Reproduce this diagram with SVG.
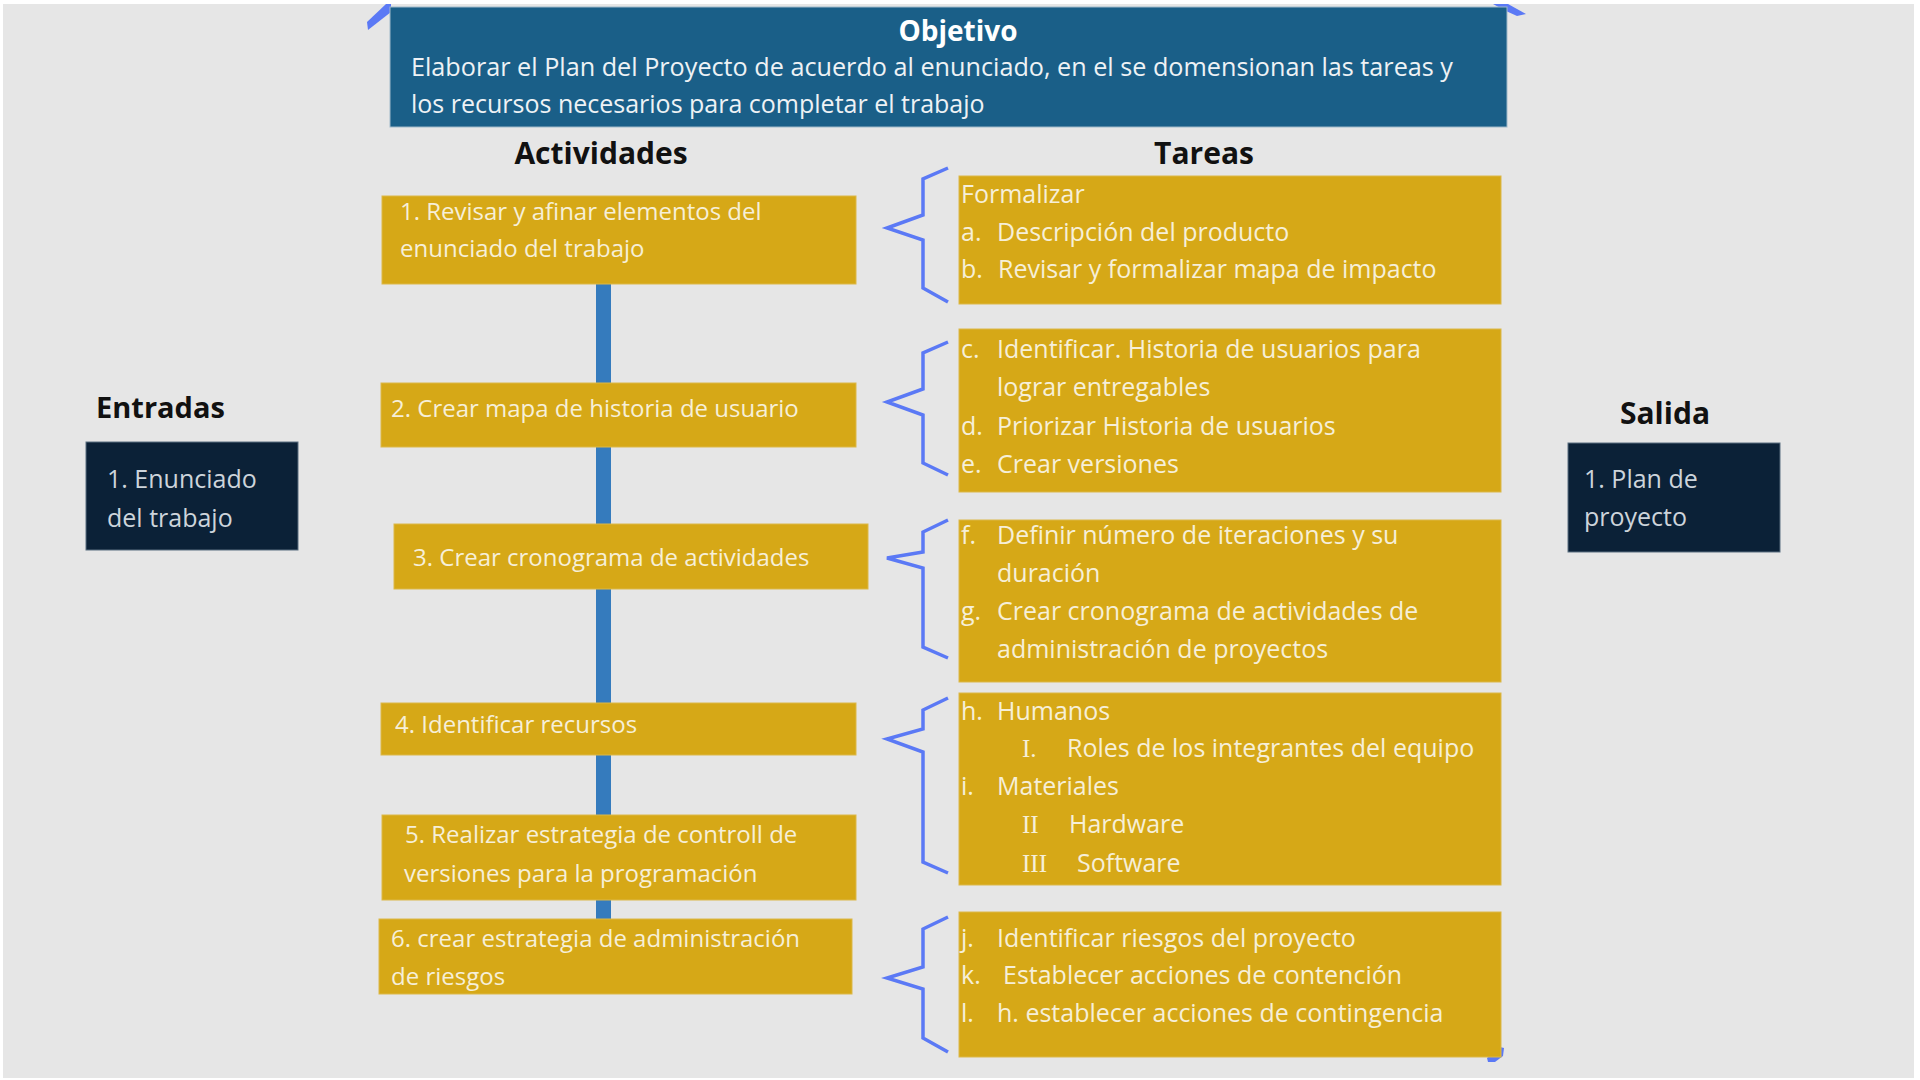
<svg xmlns="http://www.w3.org/2000/svg" width="1920" height="1080" viewBox="0 0 1920 1080">
<style>
.bg{fill:#e6e6e6}
.gold{fill:#d6a817;stroke:#dcb848;stroke-width:1}
.navy{fill:#0b2137;stroke:#5a6f80;stroke-width:1}
.obj{fill:#1a5f88;stroke:#9fb9c9;stroke-width:1}
.t{font-family:"Open Sans","Noto Sans",sans-serif;font-size:24px;fill:#f6efd8}
.tk{font-family:"Open Sans","Noto Sans",sans-serif;font-size:25px;fill:#f6efd8}
.rn{font-family:"Liberation Serif",serif;font-size:25px;fill:#f6efd8}
.nt{font-family:"Open Sans","Noto Sans",sans-serif;font-size:25px;fill:#cdd4db}
.ot{font-family:"Open Sans","Noto Sans",sans-serif;font-size:25px;fill:#eef2f5}
.h{font-family:"Open Sans","Noto Sans",sans-serif;font-size:30px;font-weight:bold;fill:#111}
.brace{fill:none;stroke:#5b79f5;stroke-width:3.5;stroke-linejoin:miter}
.bar{stroke:#357bbd;stroke-width:15}
.mark{fill:#5b79f5}
</style>
<rect x="0" y="0" width="1920" height="1080" fill="#ffffff"/>
<rect class="bg" x="3" y="4" width="1911" height="1074"/>

<g id="marks">
<polygon class="mark" points="367,22 386,4 391,4 391,12 368,30"/>
<polygon class="mark" points="1493,4 1508,4 1526,14 1517,16 1506,11"/>
<polygon class="mark" points="1487,1058 1500,1047 1504,1048 1503,1056 1495,1062 1488,1062"/>
</g>

<g id="connectors">
<line class="bar" x1="603.5" y1="280" x2="603.5" y2="922"/>
<polyline class="brace" points="948,168 923,179 923,215 887,228 923,240 923,288 948,302"/>
<polyline class="brace" points="948,342 923,353 923,389 887,402 923,415 923,463 948,475"/>
<polyline class="brace" points="948,520 923,532 923,552 887,558 923,568 923,647 948,658"/>
<polyline class="brace" points="948,698 923,710 923,729 887,739 923,752 923,862 948,873"/>
<polyline class="brace" points="948,917 923,929 923,967 887,978 923,989 923,1038 948,1052"/>
</g>

<g id="objetivo">
<rect class="obj" x="390" y="7" width="1117" height="120"/>
<text x="958" y="41" text-anchor="middle" style="font-family:'Open Sans','Noto Sans',sans-serif;font-size:28px;font-weight:bold;fill:#ffffff">Objetivo</text>
<text class="ot" x="411" y="76" textLength="1042" lengthAdjust="spacingAndGlyphs">Elaborar el Plan del Proyecto de acuerdo al enunciado, en el se domensionan las tareas y</text>
<text class="ot" x="411" y="113">los recursos necesarios para completar el trabajo</text>
</g>

<g id="header-actividades"><text class="h" x="601" y="164" text-anchor="middle">Actividades</text></g>
<g id="header-tareas"><text class="h" x="1204" y="164" text-anchor="middle">Tareas</text></g>

<g id="entradas">
<text class="h" x="96" y="418" style="font-size:29px">Entradas</text>
<rect class="navy" x="86" y="442" width="212" height="108"/>
<text class="nt" x="107" y="488">1. Enunciado</text>
<text class="nt" x="107" y="527">del trabajo</text>
</g>

<g id="salida">
<text class="h" x="1665" y="424" text-anchor="middle">Salida</text>
<rect class="navy" x="1568" y="443" width="212" height="109"/>
<text class="nt" x="1584" y="488">1. Plan de</text>
<text class="nt" x="1584" y="526">proyecto</text>
</g>

<g id="act1">
<rect class="gold" x="382" y="196" width="474" height="88"/>
<text class="t" x="400" y="220">1. Revisar y afinar elementos del</text>
<text class="t" x="400" y="257">enunciado del trabajo</text>
</g>
<g id="act2">
<rect class="gold" x="381" y="383" width="475" height="64"/>
<text class="t" x="391" y="417">2. Crear mapa de historia de usuario</text>
</g>
<g id="act3">
<rect class="gold" x="394" y="524" width="474" height="65"/>
<text class="t" x="413" y="566">3. Crear cronograma de actividades</text>
</g>
<g id="act4">
<rect class="gold" x="381" y="703" width="475" height="52"/>
<text class="t" x="395" y="733">4. Identificar recursos</text>
</g>
<g id="act5">
<rect class="gold" x="382" y="815" width="474" height="85"/>
<text class="t" x="405" y="843">5. Realizar estrategia de controll de</text>
<text class="t" x="404" y="882">versiones para la programación</text>
</g>
<g id="act6">
<rect class="gold" x="379" y="919" width="473" height="75"/>
<text class="t" x="391" y="947">6. crear estrategia de administración</text>
<text class="t" x="391" y="985">de riesgos</text>
</g>

<g id="tarea1">
<rect class="gold" x="959" y="176" width="542" height="128"/>
<text class="tk" x="961" y="203">Formalizar</text>
<text class="tk" x="961" y="241">a.</text><text class="tk" x="997" y="241">Descripción del producto</text>
<text class="tk" x="961" y="278">b.</text><text class="tk" x="998" y="278">Revisar y formalizar mapa de impacto</text>
</g>
<g id="tarea2">
<rect class="gold" x="959" y="329" width="542" height="163"/>
<text class="tk" x="961" y="358">c.</text><text class="tk" x="997" y="358">Identificar. Historia de usuarios para</text>
<text class="tk" x="997" y="396">lograr entregables</text>
<text class="tk" x="961" y="435">d.</text><text class="tk" x="997" y="435">Priorizar Historia de usuarios</text>
<text class="tk" x="961" y="473">e.</text><text class="tk" x="997" y="473">Crear versiones</text>
</g>
<g id="tarea3">
<rect class="gold" x="959" y="520" width="542" height="162"/>
<text class="tk" x="961" y="544">f.</text><text class="tk" x="997" y="544">Definir número de iteraciones y su</text>
<text class="tk" x="997" y="582">duración</text>
<text class="tk" x="961" y="620">g.</text><text class="tk" x="997" y="620">Crear cronograma de actividades de</text>
<text class="tk" x="997" y="658">administración de proyectos</text>
</g>
<g id="tarea4">
<rect class="gold" x="959" y="693" width="542" height="192"/>
<text class="tk" x="961" y="720">h.</text><text class="tk" x="997" y="720">Humanos</text>
<text class="rn" x="1022" y="757">I.</text><text class="tk" x="1067" y="757">Roles de los integrantes del equipo</text>
<text class="tk" x="961" y="795">i.</text><text class="tk" x="997" y="795">Materiales</text>
<text class="rn" x="1022" y="833">II</text><text class="tk" x="1069" y="833">Hardware</text>
<text class="rn" x="1022" y="872">III</text><text class="tk" x="1077" y="872">Software</text>
</g>
<g id="tarea5">
<rect class="gold" x="959" y="912" width="542" height="145"/>
<text class="tk" x="961" y="947">j.</text><text class="tk" x="997" y="947">Identificar riesgos del proyecto</text>
<text class="tk" x="961" y="984">k.</text><text class="tk" x="1003" y="984">Establecer acciones de contención</text>
<text class="tk" x="961" y="1022">l.</text><text class="tk" x="997" y="1022">h. establecer acciones de contingencia</text>
</g>
</svg>
